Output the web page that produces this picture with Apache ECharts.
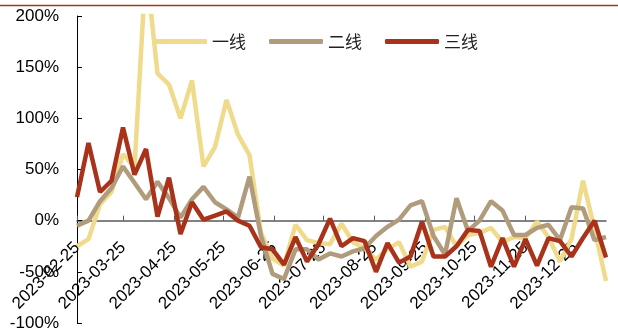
<!DOCTYPE html>
<html>
<head>
<meta charset="utf-8">
<script src="https://cdn.jsdelivr.net/npm/echarts@6/dist/echarts.min.js"></script>
<style>
  html, body { margin: 0; padding: 0; background: #fff; }
  #chart { width: 618px; height: 335px; }
</style>
</head>
<body>
<div id="chart"></div>
<script>
// Weekly observation dates
const dates = [
  '2023-02-25','2023-03-04','2023-03-11','2023-03-18','2023-03-25','2023-04-01','2023-04-08','2023-04-15',
  '2023-04-22','2023-04-29','2023-05-06','2023-05-13','2023-05-20','2023-05-27','2023-06-03','2023-06-10',
  '2023-06-17','2023-06-24','2023-07-01','2023-07-08','2023-07-15','2023-07-22','2023-07-29','2023-08-05',
  '2023-08-12','2023-08-19','2023-08-26','2023-09-02','2023-09-09','2023-09-16','2023-09-23','2023-09-30',
  '2023-10-07','2023-10-14','2023-10-21','2023-10-28','2023-11-04','2023-11-11','2023-11-18','2023-11-25',
  '2023-12-02','2023-12-09','2023-12-16','2023-12-23','2023-12-30','2024-01-06','2024-01-13'
];

// Year-on-year change, % (一线 / 二线 / 三线)
const tier1 = [
  -25, -18, 16, 28, 65, 52, 250, 144, 133, 100, 137, 53, 72, 118, 84, 64,
  -12, -37, -44, -4, -19, -22, -23, -3, -21, -27, -38, -28, -21, -45, -40, -9,
  -6, -25, -14, -12, -7, -21, -16, -17, -1, -16, -40, -18, 39, -8, -59
];
const tier2 = [
  -5, 0, 19, 32, 53, 37, 21, 38, 22, 3, 21, 33, 18, 11, 3, 43,
  -15, -52, -57, -28, -28, -38, -32, -35, -30, -27, -15, -6, 1, 15, 19, -15,
  -33, 22, -10, 0, 19, 10, -14, -14, -7, -4, -19, 13, 12, -19, -16
];
const tier3 = [
  23, 76, 28, 39, 91, 45, 70, 4, 42, -13, 18, 1, 5, 9, 0, -5,
  -26, -28, -43, -16, -40, -23, 2, -25, -17, -20, -50, -22, -41, -35, -1, -35,
  -35, -25, -9, -10, -45, -17, -45, -18, -44, -17, -20, -35, -17, 0, -36
];

const seriesNames = ['一线', '二线', '三线'];
const seriesColors = ['#F0DA8C', '#B09B7C', '#A8321A'];

// Month marks shown on the date axis
const tickDates = [
  '2023-02-25','2023-03-25','2023-04-25','2023-05-25','2023-06-25','2023-07-25',
  '2023-08-25','2023-09-25','2023-10-25','2023-11-25','2023-12-25'
];

// Daily category axis: one slot per calendar day, so spacing follows the calendar
const DAY = 86400000;
function toUTC(s) {
  const p = s.split('-').map(Number);
  return Date.UTC(p[0], p[1] - 1, p[2]);
}
const t0 = toUTC(dates[0]);
function toDay(s) { return Math.round((toUTC(s) - t0) / DAY); }
function pad(n) { return (n < 10 ? '0' : '') + n; }
function dayLabel(d) {
  const dt = new Date(t0 + d * DAY);
  return dt.getUTCFullYear() + '-' + pad(dt.getUTCMonth() + 1) + '-' + pad(dt.getUTCDate());
}
const lastDay = toDay(dates[dates.length - 1]);
const dayCategories = [];
for (let d = 0; d <= lastDay; d++) dayCategories.push(dayLabel(d));
const tickSet = new Set(tickDates.map(toDay));
const isTick = (idx) => tickSet.has(idx);

const allSeries = [tier1, tier2, tier3].map((vals, k) => ({
  name: seriesNames[k],
  type: 'line',
  symbol: 'none',
  data: vals.map((v, i) => [toDay(dates[i]), v]),
  lineStyle: { width: 4.5, color: seriesColors[k] },
  itemStyle: { color: seriesColors[k] },
  clip: true
}));

const chart = echarts.init(document.getElementById('chart'), null, { renderer: 'canvas' });
chart.setOption({
  animation: false,
  backgroundColor: '#fff',
  textStyle: { fontFamily: '"Liberation Sans", Arial, sans-serif' },
  graphic: [{
    type: 'line',
    shape: { x1: 0, y1: 5.5, x2: 618, y2: 5.5 },
    style: { stroke: '#A33A20', lineWidth: 1.5 }
  }],
  legend: {
    data: seriesNames.map((n) => ({ name: n, icon: 'roundRect' })),
    left: 153,
    top: 33,
    padding: 0,
    itemWidth: 54,
    itemHeight: 5,
    itemGap: 23,
    textStyle: { fontSize: 17, color: '#222', fontFamily: '"Noto Sans CJK SC", sans-serif' }
  },
  grid: {
    left: 77, right: 12, top: 16, bottom: 12,
    containLabel: false,
    outerBoundsMode: 'none'
  },
  xAxis: {
    type: 'category',
    data: dayCategories,
    boundaryGap: false,
    axisLine: { onZero: true, lineStyle: { color: '#595959', width: 1.5 } },
    axisTick: { show: true, inside: true, length: 5, interval: isTick, lineStyle: { color: '#595959' } },
    axisLabel: {
      interval: isTick,
      rotate: 45,
      // labels sit just under the zero line rather than the grid bottom
      margin: -78,
      fontSize: 17,
      color: '#000'
    },
    splitLine: { show: false }
  },
  yAxis: {
    type: 'value',
    min: -100,
    max: 200,
    interval: 50,
    axisLine: { show: true, lineStyle: { color: '#000', width: 1 } },
    axisTick: { show: true, inside: true, length: 5, lineStyle: { color: '#000' } },
    axisLabel: { fontSize: 17, color: '#000', margin: 18, formatter: '{value}%' },
    splitLine: { show: false }
  },
  series: allSeries
});
</script>
</body>
</html>
